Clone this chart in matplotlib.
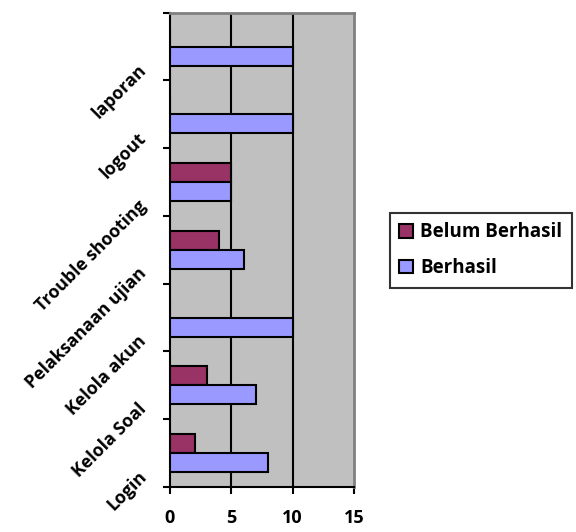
import matplotlib
matplotlib.use("Agg")
import matplotlib.pyplot as plt
import numpy as np

categories = ["Login", "Kelola Soal", "Kelola akun", "Pelaksanaan ujian",
              "Trouble shooting", "logout", "laporan"]
berhasil = [8, 7, 10, 6, 5, 10, 10]
belum_berhasil = [2, 3, 0, 4, 5, 0, 0]
xticks = [0, 5, 10, 15]

plt.rcParams['font.family'] = ['Open Sans', 'DejaVu Sans']
plt.rcParams['font.weight'] = 'bold'

fig = plt.figure(figsize=(5.76, 5.32), dpi=100)
ax = fig.add_axes([0.2951, 0.0846, 0.3194, 0.8915])
ax.set_facecolor('#C0C0C0')

y = np.arange(len(categories))
h = 0.28
ax.barh(y + h / 2, belum_berhasil, height=h, color='#993366', edgecolor='black',
        linewidth=1.5, label='Belum Berhasil', zorder=3)
ax.barh(y - h / 2, berhasil, height=h, color='#9999FF', edgecolor='black',
        linewidth=1.5, label='Berhasil', zorder=3)

ax.set_xlim(0, 15)
ax.set_ylim(-0.5, len(categories) - 0.5)
ax.set_xticks(xticks)
ax.set_xticklabels([str(v) for v in xticks], fontsize=13, fontweight='bold')
for v in xticks[1:-1]:
    ax.axvline(v, color='black', linewidth=1.5, zorder=1)

ax.set_yticks(np.arange(len(categories) + 1) - 0.5)
ax.set_yticklabels([])
ax.set_yticks(y - 0.31, minor=True)
ax.set_yticklabels(categories, minor=True, rotation=45, ha='right', va='center',
                   rotation_mode='anchor', fontsize=12.8, fontweight='bold')
ax.tick_params(axis='y', which='minor', length=0, pad=19)
ax.tick_params(axis='y', which='major', length=5, width=1.5, direction='out')
ax.tick_params(axis='x', length=5, width=1.5, direction='out', pad=11)

for s in ['left', 'bottom']:
    ax.spines[s].set_color('black')
    ax.spines[s].set_linewidth(1.5)
for s in ['top', 'right']:
    ax.spines[s].set_color('#808080')
    ax.spines[s].set_linewidth(2)

leg = fig.legend(loc='upper left', bbox_to_anchor=(390 / 576, 1 - 213 / 532),
                 frameon=True, fancybox=False, edgecolor='black', fontsize=13.5,
                 handlelength=0.72, handleheight=0.72, handletextpad=0.4,
                 borderpad=0.5, labelspacing=0.85, borderaxespad=0)
leg.get_frame().set_linewidth(1.5)
for t in leg.get_texts():
    t.set_fontweight('bold')

fig.savefig('out.png', dpi=100)
